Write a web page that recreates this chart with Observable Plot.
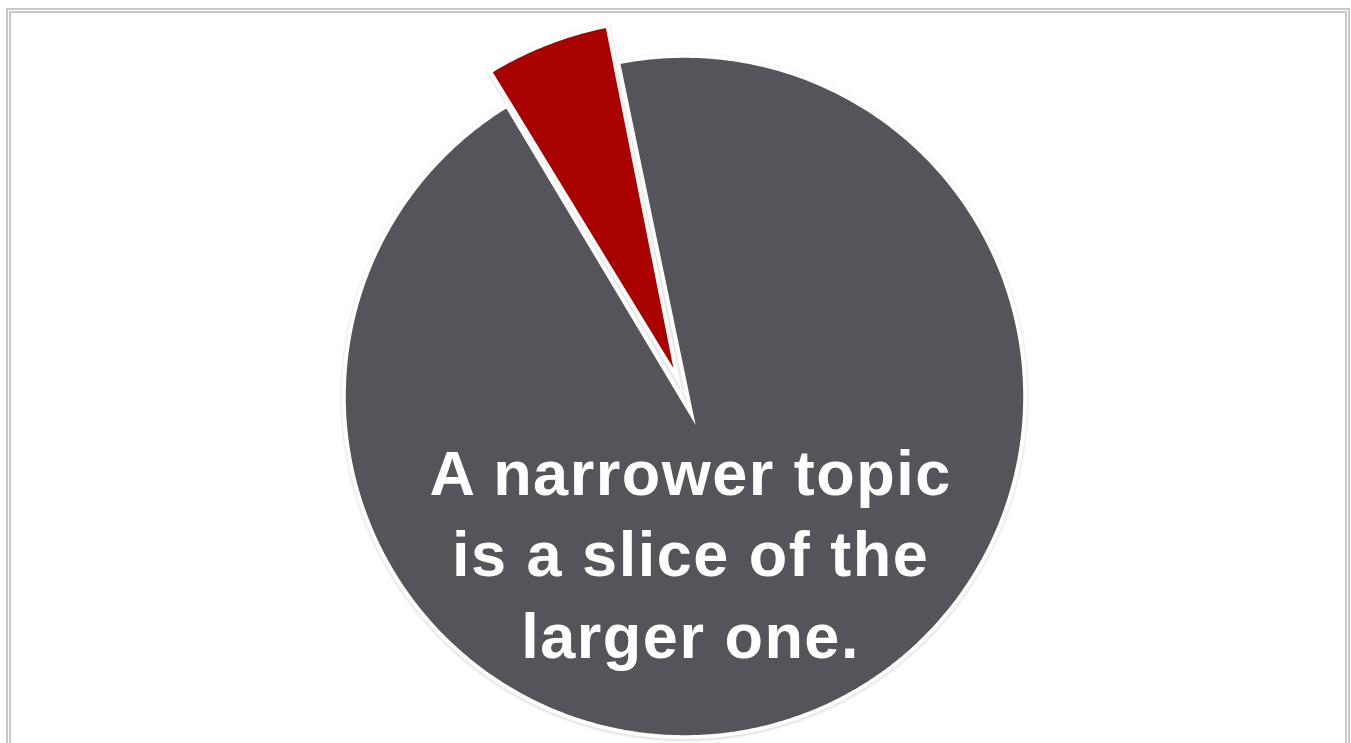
<!DOCTYPE html>
<html><head><meta charset="utf-8">
<script src="https://cdn.jsdelivr.net/npm/d3@7"></script>
<script src="https://cdn.jsdelivr.net/npm/@observablehq/plot@0.6"></script>
<style>
html,body{margin:0;padding:0;background:#fff;width:1351px;height:743px;overflow:hidden}
#chart{position:absolute;left:0;top:0}
#frame{position:absolute;left:6px;top:8px;width:1334px;height:760px;border:5px double #c8c8c8;border-bottom:none;pointer-events:none}
#chart text{letter-spacing:1.5px}
#chart g[aria-label="line"] path{filter:drop-shadow(0 1px 1.5px rgba(0,0,0,0.18))}
</style></head><body>
<div id="chart"></div><div id="frame"></div>
<script>
// Data
const categories = ["Larger topic", "Narrower topic"];
const shares = [94.4, 5.6];
const sliceColors = ["#55545a", "#a90000"];
const caption = ["A narrower topic", "is a slice of the", "larger one."];

// Geometry (style constants)
const rad = d => d * Math.PI / 180;
const start = rad(-31.4);
const pieData = [1, 0].map(i => ({name: categories[i], value: shares[i]}));
const arcs = d3.pie().sort(null).value(d => d.value).startAngle(start).endAngle(start + 2 * Math.PI)(pieData);

const rows = [];
for (const a of arcs) {
  const b = (a.startAngle + a.endAngle) / 2;
  const exploded = a.data.name === categories[1];
  const cx = exploded ? 0.056 * Math.sin(b) : 0;
  const cy = exploded ? 0.056 * Math.cos(b) : 0;
  const r = exploded ? 1.062 : 1.005;
  const ax = exploded ? cx : 0.055 * Math.sin(b);
  const ay = exploded ? cy : 0.055 * Math.cos(b);
  rows.push({slice: a.data.name, x: ax, y: ay});
  const n = Math.max(8, Math.ceil((a.endAngle - a.startAngle) / rad(0.5)));
  for (let k = 0; k <= n; k++) {
    const t = a.startAngle + (a.endAngle - a.startAngle) * k / n;
    rows.push({slice: a.data.name, x: cx + r * Math.sin(t), y: cy + r * Math.cos(t)});
  }
}

const chart = Plot.plot({
  width: 1351, height: 743,
  marginLeft: 345, marginRight: 328, marginTop: 57, marginBottom: 8,
  x: {domain: [-1, 1], axis: null},
  y: {domain: [-1, 1], axis: null},
  color: {domain: categories, range: sliceColors},
  style: {background: "transparent", overflow: "visible"},
  marks: [
    Plot.line(rows, {x: "x", y: "y", z: "slice", fill: "slice", stroke: "white", strokeWidth: 4,
      strokeLinejoin: "miter", strokeMiterlimit: 10, curve: "linear-closed"}),
    Plot.text([caption.join("\n")], {x: () => 0.018, y: () => -0.454, text: d => d,
      lineHeight: 1.29, fontSize: 63, fontWeight: "bold", fill: "white",
      fontFamily: "'Liberation Sans', Arial, Helvetica, sans-serif"})
  ]
});
document.getElementById("chart").appendChild(chart);
</script>
</body></html>
